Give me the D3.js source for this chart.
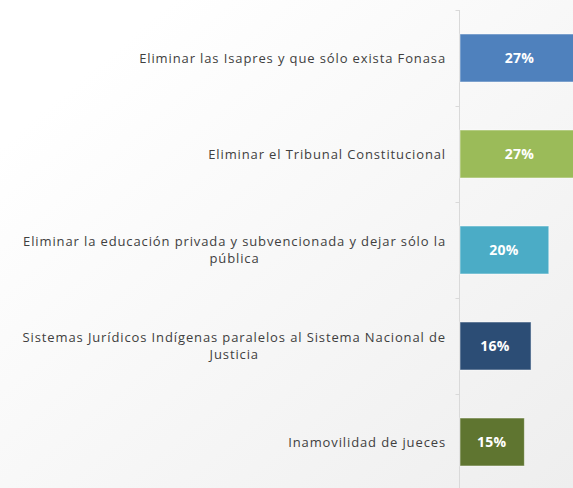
<!DOCTYPE html>
<html><head><meta charset="utf-8">
<script src="https://cdn.jsdelivr.net/npm/d3@7"></script>
<style>html,body{margin:0;padding:0;overflow:hidden;background:#fff}</style>
</head><body>
<svg id="chart" width="573" height="488"></svg>
<script>
const categories = [
  "Eliminar las Isapres y que sólo exista Fonasa",
  "Eliminar el Tribunal Constitucional",
  "Eliminar la educación privada y subvencionada y dejar sólo la\npública",
  "Sistemas Jurídicos Indígenas paralelos al Sistema Nacional de\nJusticia",
  "Inamovilidad de jueces"
];
const values = [27, 27, 20, 16, 14.5];
const colors = ["#4f81bd", "#9bbb59", "#4bacc6", "#2c4d75", "#5f7530"];

const W = 573, H = 488;
const svg = d3.select("#chart");
const defs = svg.append("defs");
const g = defs.append("linearGradient").attr("id","bg")
  .attr("x1","0").attr("y1","0").attr("x2","1").attr("y2","1");
g.append("stop").attr("offset","0.15").attr("stop-color","#ffffff");
g.append("stop").attr("offset","1").attr("stop-color","#eeeeee");
svg.append("rect").attr("width",W).attr("height",H).attr("fill","url(#bg)");

const axisX = 459.5;
const y = d3.scaleBand().domain(categories).range([10, 490]).paddingInner(0.5).paddingOuter(0.25);
const x = d3.scaleLinear().domain([0, 100]).range([axisX, axisX + 444]);

svg.append("line").attr("x1",axisX).attr("x2",axisX).attr("y1",10).attr("y2",H)
  .attr("stroke","#d9d9d9").attr("stroke-width",1);
const bounds = categories.map(c => y(c) - y.step()*y.paddingInner()/2);
bounds.push(490);
svg.selectAll(".tk").data(bounds).join("line").attr("class","tk")
  .attr("x1",axisX-4).attr("x2",axisX).attr("y1",d=>Math.round(d)+0.5).attr("y2",d=>Math.round(d)+0.5)
  .attr("stroke","#d9d9d9");

svg.selectAll(".bar").data(categories).join("rect").attr("class","bar")
  .attr("x", x(0)+0.5).attr("y", d=>y(d))
  .attr("width", (d,i)=>x(values[i])-x(0)).attr("height", y.bandwidth())
  .attr("fill",(d,i)=>colors[i]).attr("stroke","#ffffff").attr("stroke-opacity",0.5).attr("stroke-width",1);

svg.selectAll(".val").data(categories).join("text").attr("class","val")
  .attr("x",(d,i)=>(x(0)+x(values[i]))/2).attr("y",d=>y(d)+y.bandwidth()/2)
  .attr("dy","0.35em").attr("text-anchor","middle")
  .attr("font-family","'Open Sans', sans-serif").attr("font-weight","bold").attr("font-size",14)
  .attr("letter-spacing","0.3px")
  .attr("fill","#ffffff").text((d,i)=>Math.round(values[i])+"%");

const font = "'Open Sans', sans-serif";
const lab = svg.selectAll(".cat").data(categories).join("g").attr("class","cat");
lab.each(function(d){
  const lines = d.split("\n");
  const gg = d3.select(this);
  const lh = 17;
  const cy = y(d)+y.bandwidth()/2 - (lines.length-1)*lh/2;
  const t0 = gg.append("text").attr("x",446).attr("y",cy).attr("dy","0.35em")
    .attr("text-anchor","end").attr("font-family",font).attr("letter-spacing","0.88px")
    .attr("font-size",13).attr("fill","#404040").text(lines[0]);
  if (lines.length>1){
    const w = t0.node().getComputedTextLength();
    for (let k=1;k<lines.length;k++){
      gg.append("text").attr("x",446-w/2).attr("y",cy+k*lh).attr("dy","0.35em")
        .attr("text-anchor","middle").attr("font-family",font).attr("letter-spacing","0.88px")
        .attr("font-size",13).attr("fill","#404040").text(lines[k]);
    }
  }
});
</script>
</body></html>
